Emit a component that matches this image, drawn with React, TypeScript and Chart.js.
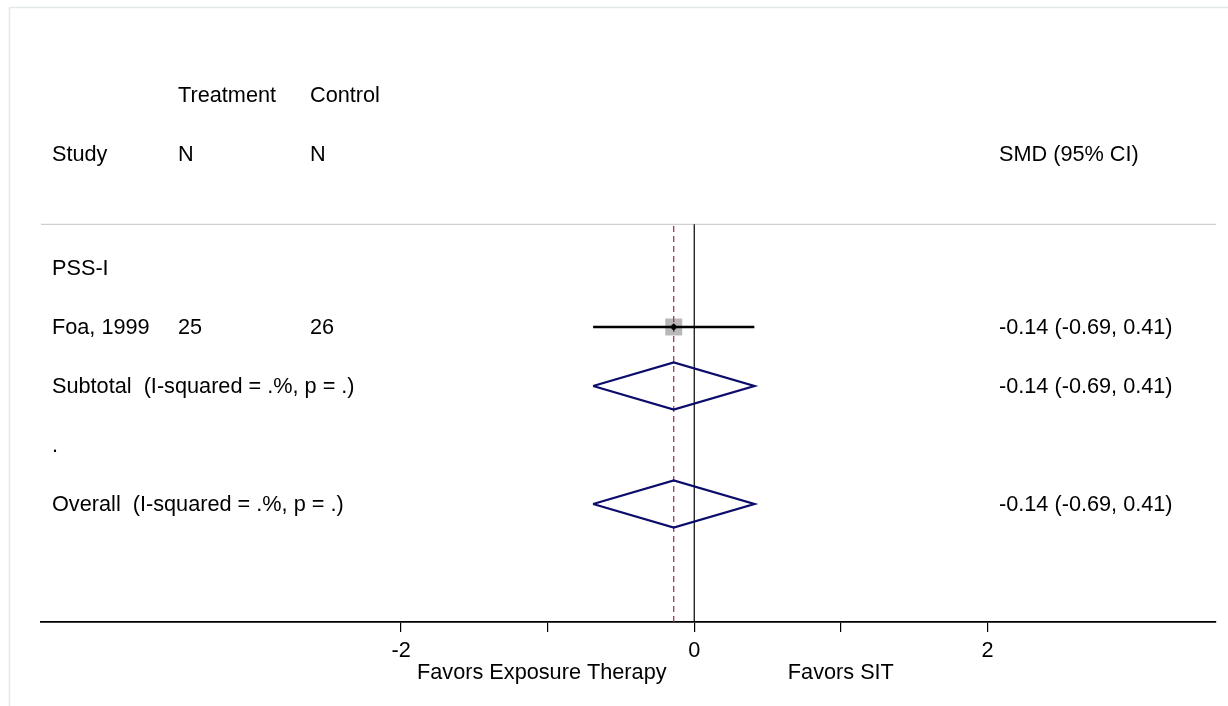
import { useEffect, useRef } from "react";
import { Chart, registerables } from "chart.js";

Chart.register(...registerables);

// ---- data ----
const rowLabels = ["PSS-I", "Foa, 1999", "Subtotal  (I-squared = .%, p = .)", ".", "Overall  (I-squared = .%, p = .)"];
const rowTypes = ["group", "study", "subtotal", "blank", "overall"];
const rowPos = [6, 5, 4, 3, 2];
const treatmentN = ["", "25", "", "", ""];
const controlN = ["", "26", "", "", ""];
const smd: (number | null)[] = [null, -0.14, -0.14, null, -0.14];
const lowerCI: (number | null)[] = [null, -0.69, -0.69, null, -0.69];
const upperCI: (number | null)[] = [null, 0.41, 0.41, null, 0.41];

const headerTop = ["", "Treatment", "Control", ""];
const headerBottom = ["Study", "N", "N", "SMD (95% CI)"];

const xTicks = [-2, -1, 0, 1, 2];
const xTickLabels = ["-2", "", "0", "", "2"];
const favorLabels = ["Favors Exposure Therapy", "Favors SIT"];
const favorPos = [-1.04, 1.0];

const xMin = -4.456;
const xMax = 3.559;
const yMin = 0;
const yMax = 10;
const separatorPos = 6.74;
const headerTopPos = 8.94;
const headerBottomPos = 7.94;

// ---- layout / style ----
const FONT = '"Liberation Sans", Arial, Helvetica, sans-serif';
const FONT_SIZE = 21.7;
const TEXT_DY = 1.5;
const colX = [52, 178, 310, 999];
const DIAMOND_HALF = 0.4;
const NAVY = "#0c0c6c";
const MAROON = "#9a2a40";

const fmt = (v: number) => v.toFixed(2);

export default function App() {
  const ref = useRef<HTMLCanvasElement>(null);

  useEffect(() => {
    const canvas = ref.current;
    if (!canvas) return;

    const studyIdx = rowTypes.map((t, i) => (t === "study" ? i : -1)).filter((i) => i >= 0);
    const pooledIdx = rowTypes
      .map((t, i) => (t === "subtotal" || t === "overall" ? i : -1))
      .filter((i) => i >= 0);
    const overallIdx = rowTypes.indexOf("overall");
    const overallEst = smd[overallIdx] as number;

    const datasets: any[] = [];

    datasets.push({
      label: "separator",
      data: [
        { x: xMin, y: separatorPos },
        { x: xMax, y: separatorPos },
      ],
      showLine: true,
      borderColor: "#d0d0d0",
      borderWidth: 1.3,
      pointRadius: 0,
      order: 20,
    });

    studyIdx.forEach((i) => {
      datasets.push({
        label: "box",
        data: [{ x: smd[i], y: rowPos[i] }],
        pointStyle: "rect",
        pointRadius: 12,
        backgroundColor: "#b8b8b8",
        borderWidth: 0,
        order: 15,
      });
      datasets.push({
        label: "ci",
        data: [
          { x: lowerCI[i], y: rowPos[i] },
          { x: upperCI[i], y: rowPos[i] },
        ],
        showLine: true,
        borderColor: "#000",
        borderWidth: 2.4,
        pointRadius: 0,
        order: 6,
      });
      datasets.push({
        label: "dot",
        data: [{ x: smd[i], y: rowPos[i] }],
        pointStyle: "rectRot",
        pointRadius: 3.8,
        backgroundColor: "#000",
        borderColor: "#000",
        borderWidth: 0,
        order: 1,
      });
    });

    datasets.push({
      label: "null line",
      data: [
        { x: 0, y: yMin },
        { x: 0, y: separatorPos },
      ],
      showLine: true,
      borderColor: "#000",
      borderWidth: 1.2,
      pointRadius: 0,
      order: 8,
    });

    datasets.push({
      label: "overall line",
      data: [
        { x: overallEst, y: yMin },
        { x: overallEst, y: separatorPos },
      ],
      showLine: true,
      borderColor: MAROON,
      borderWidth: 1.2,
      borderDash: [6, 4],
      pointRadius: 0,
      order: 5,
    });

    pooledIdx.forEach((i) => {
      const y = rowPos[i];
      datasets.push({
        label: "diamond",
        data: [
          { x: lowerCI[i], y },
          { x: smd[i], y: y + DIAMOND_HALF },
          { x: upperCI[i], y },
          { x: smd[i], y: y - DIAMOND_HALF },
          { x: lowerCI[i], y },
        ],
        showLine: true,
        borderColor: NAVY,
        borderWidth: 2.3,
        borderJoinStyle: "miter",
        pointRadius: 0,
        fill: false,
        order: 3,
      });
    });

    const textPlugin = {
      id: "forestText",
      beforeDraw(chart: any) {
        const ctx = chart.ctx;
        ctx.save();
        ctx.fillStyle = "#fff";
        ctx.fillRect(0, 0, chart.width, chart.height);
        ctx.strokeStyle = "#e2e9ec";
        ctx.lineWidth = 1.5;
        ctx.strokeRect(9.5, 7.5, chart.width + 20, chart.height + 20);
        ctx.restore();
      },
      afterDraw(chart: any) {
        const ctx = chart.ctx;
        const xs = chart.scales.x;
        const ys = chart.scales.y;
        ctx.save();
        ctx.font = `${FONT_SIZE}px ${FONT}`;
        ctx.fillStyle = "#000";
        ctx.textBaseline = "middle";
        ctx.textAlign = "left";
        const yTop = ys.getPixelForValue(headerTopPos) + TEXT_DY;
        const yBot = ys.getPixelForValue(headerBottomPos) + TEXT_DY;
        headerTop.forEach((t, c) => t && ctx.fillText(t, colX[c], yTop));
        headerBottom.forEach((t, c) => t && ctx.fillText(t, colX[c], yBot));
        rowLabels.forEach((label, i) => {
          const y = ys.getPixelForValue(rowPos[i]) + TEXT_DY;
          ctx.fillText(label, colX[0], y);
          if (treatmentN[i]) ctx.fillText(treatmentN[i], colX[1], y);
          if (controlN[i]) ctx.fillText(controlN[i], colX[2], y);
          const e = smd[i];
          const lo = lowerCI[i];
          const hi = upperCI[i];
          if (e !== null && lo !== null && hi !== null) {
            ctx.fillText(`${fmt(e)} (${fmt(lo)}, ${fmt(hi)})`, colX[3], y);
          }
        });
        ctx.textAlign = "center";
        favorLabels.forEach((t, k) => {
          ctx.fillText(t, xs.getPixelForValue(favorPos[k]), xs.top + 51.5);
        });
        ctx.restore();
      },
    };

    const chart = new Chart(canvas, {
      type: "scatter",
      data: { datasets },
      options: {
        animation: false,
        responsive: false,
        devicePixelRatio: 1,
        layout: { padding: { left: 41, right: 12, top: 32, bottom: 0 } },
        plugins: {
          legend: { display: false },
          tooltip: { enabled: false },
          title: { display: false },
        },
        elements: { line: { tension: 0 } },
        scales: {
          x: {
            type: "linear",
            position: "bottom",
            min: xMin,
            max: xMax,
            afterBuildTicks: (scale: any) => {
              scale.ticks = xTicks.map((v) => ({ value: v }));
            },
            afterFit: (scale: any) => {
              scale.height = 84;
            },
            grid: {
              drawOnChartArea: false,
              drawTicks: true,
              tickLength: 10,
              color: "#000",
              lineWidth: 1.2,
            },
            border: { display: true, color: "#000", width: 1.8 },
            ticks: {
              autoSkip: false,
              maxRotation: 0,
              padding: 6,
              color: "#000",
              font: { family: FONT, size: FONT_SIZE },
              callback: (value: any) => {
                const k = xTicks.indexOf(Number(value));
                return k >= 0 ? xTickLabels[k] : "";
              },
            },
          },
          y: {
            type: "linear",
            min: yMin,
            max: yMax,
            display: false,
          },
        },
      },
      plugins: [textPlugin],
    } as any);

    return () => chart.destroy();
  }, []);

  return (
    <div style={{ position: "absolute", left: 0, top: 0, width: 1228, height: 706, background: "#fff" }}>
      <canvas ref={ref} width={1228} height={706} style={{ display: "block", width: 1228, height: 706 }} />
    </div>
  );
}
